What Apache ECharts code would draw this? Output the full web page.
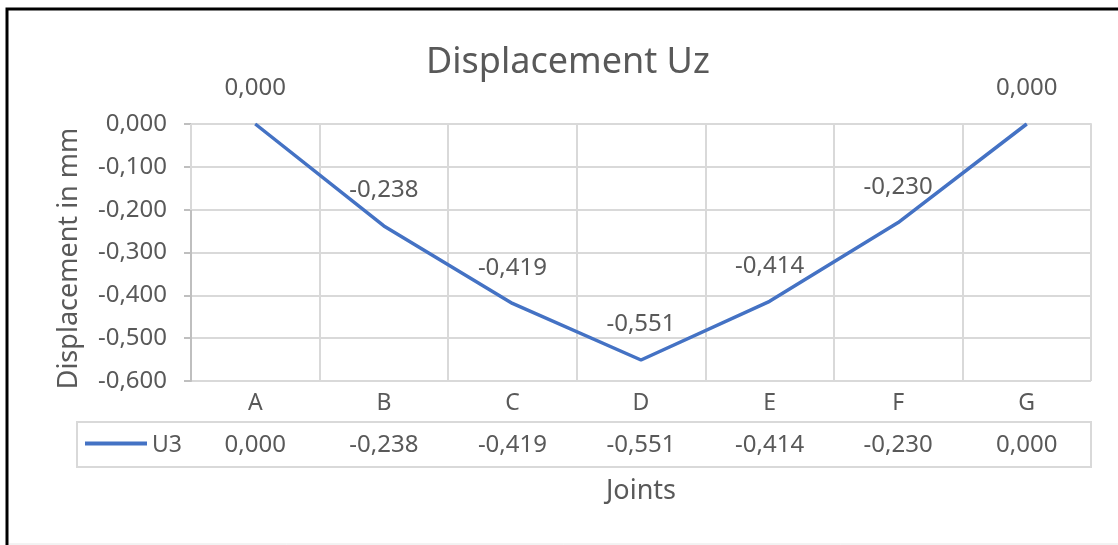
<!DOCTYPE html>
<html>
<head>
<meta charset="utf-8">
<script src="https://cdn.jsdelivr.net/npm/echarts@6/dist/echarts.min.js"></script>
<style>
html,body{margin:0;padding:0;background:#fff;}
#c{width:1118px;height:545px;}
</style>
</head>
<body>
<div id="c"></div>
<script>
const categories = ['A', 'B', 'C', 'D', 'E', 'F', 'G'];
const seriesName = 'U3';
const u3Values = [0.000, -0.238, -0.419, -0.551, -0.414, -0.230, 0.000];
const yTicks = { min: -0.6, max: 0, interval: 0.1 };

const FONT = '"Noto Sans", sans-serif';
const TXT = '#595959';
const GRID = '#d9d9d9';
const fmt = v => (Math.abs(v) < 1e-9 ? 0 : v).toFixed(3).replace('.', ',');
const tableValues = u3Values.map(fmt);

const chart = echarts.init(document.getElementById('c'), null, { renderer: 'canvas' });
chart.setOption({
  backgroundColor: '#ffffff',
  textStyle: { fontFamily: FONT, color: TXT },
  title: {
    text: 'Displacement Uz',
    left: 426,
    top: 45,
    padding: 0,
    textStyle: { fontFamily: FONT, fontSize: 36, fontWeight: 'normal', color: TXT }
  },
  legend: {
    left: 85,
    top: 434,
    padding: 0,
    icon: 'rect',
    itemWidth: 62,
    itemHeight: 4,
    itemGap: 6,
    data: [seriesName],
    formatter: '{a|{name}}',
    textStyle: {
      fontFamily: FONT, fontSize: 23, color: TXT,
      rich: { a: { fontFamily: FONT, fontSize: 23, color: TXT, padding: [4, 0, 0, 0] } }
    }
  },
  grid: [
    { left: 191, right: 27, top: 124, bottom: 164, containLabel: false },
    { left: 77, top: 422, width: 1014, height: 45, show: true, borderColor: GRID, borderWidth: 2, backgroundColor: 'transparent' }
  ],
  xAxis: [
    {
      type: 'category',
      gridIndex: 0,
      data: categories,
      boundaryGap: true,
      position: 'bottom',
      axisLine: { show: true, lineStyle: { color: GRID, width: 2 } },
      axisTick: { show: true, interval: 0, length: 86, lineStyle: { color: GRID, width: 2 } },
      axisLabel: { margin: 11, fontFamily: FONT, fontSize: 23, color: TXT },
      splitLine: { show: true, interval: 0, lineStyle: { color: GRID, width: 2 } },
      name: 'Joints',
      nameLocation: 'middle',
      nameGap: 97,
      nameTextStyle: { fontFamily: FONT, fontSize: 27, color: TXT }
    },
    {
      type: 'category',
      gridIndex: 0,
      data: tableValues,
      boundaryGap: true,
      position: 'bottom',
      offset: 41,
      axisLine: { show: false },
      axisTick: { show: false },
      axisLabel: { margin: 11, fontFamily: FONT, fontSize: 24, color: TXT },
      splitLine: { show: false }
    },
    { type: 'value', gridIndex: 1, show: false }
  ],
  yAxis: [
    {
      type: 'value',
      gridIndex: 0,
      min: yTicks.min,
      max: yTicks.max,
      interval: yTicks.interval,
      axisLine: { show: true, lineStyle: { color: '#bfbfbf', width: 2 } },
      axisTick: { show: true, length: 7, lineStyle: { color: '#bfbfbf', width: 2 } },
      axisLabel: { margin: 24, fontFamily: FONT, fontSize: 24, color: TXT, formatter: fmt },
      splitLine: { show: true, lineStyle: { color: GRID, width: 2 } },
      name: 'Displacement in mm',
      nameLocation: 'middle',
      nameRotate: 90,
      nameGap: 108,
      nameTextStyle: { fontFamily: FONT, fontSize: 27, color: TXT, padding: [0, 12, 0, 0] }
    },
    { type: 'value', gridIndex: 1, show: false }
  ],
  series: [
    {
      name: seriesName,
      type: 'line',
      xAxisIndex: 0,
      yAxisIndex: 0,
      data: u3Values,
      symbol: 'circle',
      symbolSize: 1,
      showSymbol: true,
      lineStyle: { color: '#4472C4', width: 3.5 },
      itemStyle: { color: '#4472C4' },
      label: {
        show: true,
        position: 'top',
        distance: 23,
        fontFamily: FONT,
        fontSize: 24,
        color: TXT,
        formatter: p => fmt(p.value)
      },
      emphasis: { disabled: true },
      animation: false,
      z: 5
    }
  ],
  graphic: [
    { type: 'rect', silent: true, shape: { x: 7, y: 9, width: 1300, height: 700 }, style: { fill: 'none', stroke: '#000', lineWidth: 3 } },
    { type: 'line', silent: true, shape: { x1: 9, y1: 544, x2: 1118, y2: 544 }, style: { stroke: '#e6e6e6', lineWidth: 1 } }
  ],
  animation: false
});
</script>
</body>
</html>
